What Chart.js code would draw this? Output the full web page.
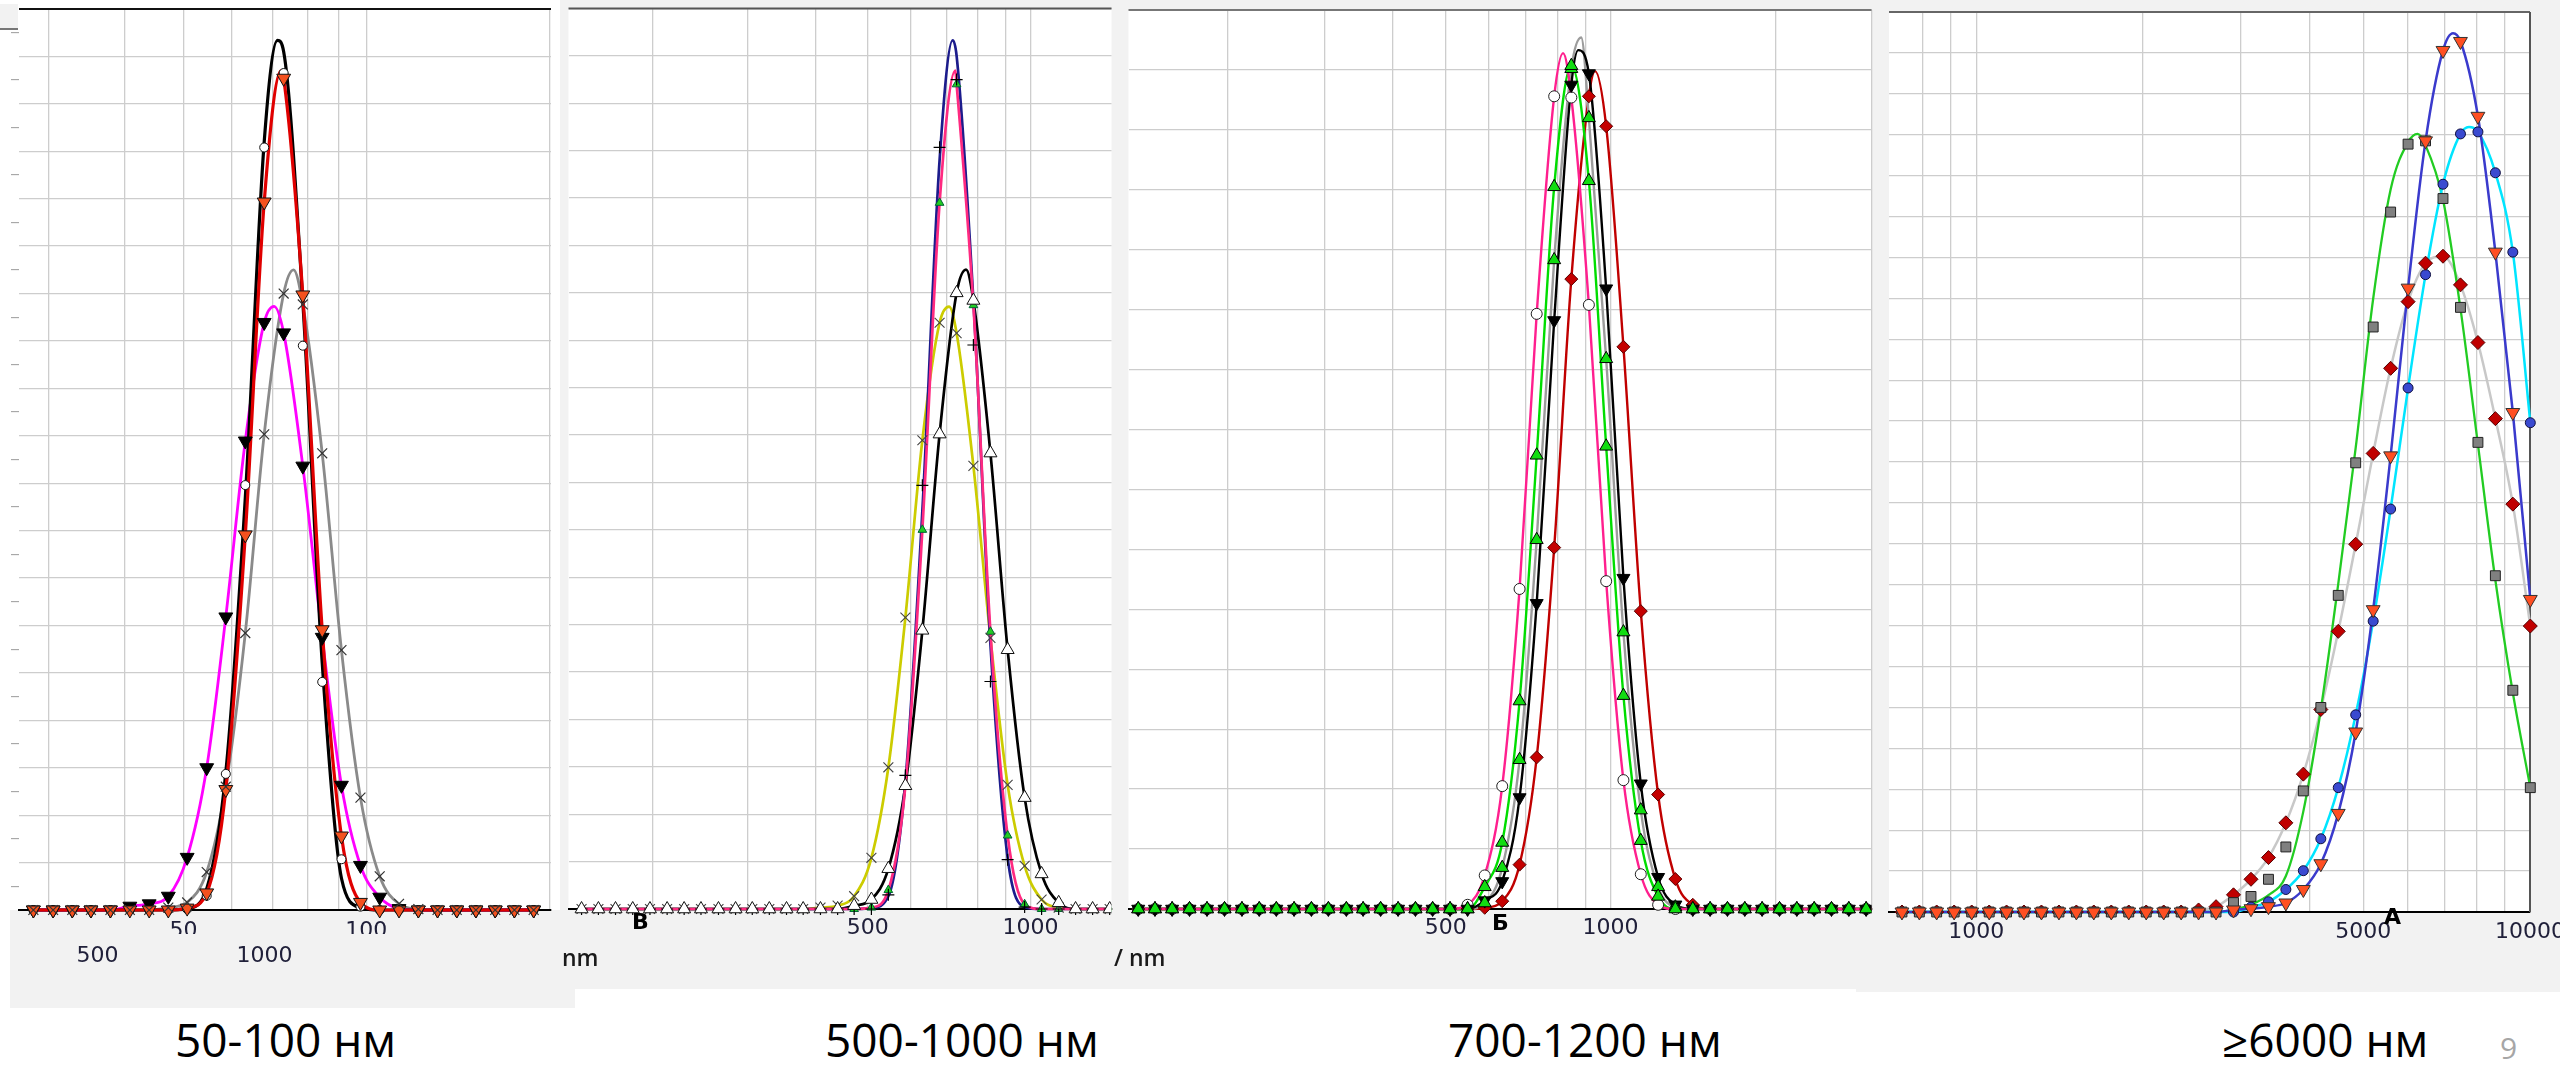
<!DOCTYPE html>
<html><head><meta charset="utf-8">
<script src="https://cdn.jsdelivr.net/npm/chart.js@4/dist/chart.umd.min.js"></script>
<style>
html,body{margin:0;padding:0}
body{width:2560px;height:1065px;background:#fff;position:relative;overflow:hidden}
.g{position:absolute;background:#f2f2f2}
.gc{position:absolute;background:#f2f2f2;z-index:4}
canvas{position:absolute}
.t{position:absolute;white-space:nowrap;z-index:5}
.cap{font-family:'Open Sans',sans-serif;font-size:46px;line-height:46px;color:#000}
.ax{font-family:'Open Sans',sans-serif;font-weight:600;font-size:23px;line-height:23px;color:#1a1a1a}
.lt{font-family:'DejaVu Sans',sans-serif;font-weight:bold;font-size:22px;line-height:22px;color:#000}
</style></head>
<body>
<div class="g" style="left:560px;top:0;width:2000px;height:989px"></div>
<div class="g" style="left:10px;top:910px;width:565px;height:98px"></div>
<div class="g" style="left:1856px;top:985px;width:704px;height:7px"></div>
<div class="g" style="left:0;top:4px;width:18px;height:24px;border-bottom:2px solid #777"></div>
<div id="stage"></div>
<div class="gc" style="left:74px;top:932px;width:50px;height:11px"></div>
<div class="gc" style="left:232px;top:932px;width:72px;height:11px"></div>
<div class="t ax" style="left:562px;top:946px">nm</div>
<div class="t ax" style="left:1114px;top:946px">/ nm</div>
<div class="t lt" style="left:632px;top:911px">В</div>
<div class="t lt" style="left:1492px;top:912px">Б</div>
<div class="t lt" style="left:2384px;top:906px">А</div>
<div class="t cap" style="left:175px;top:1016px">50-100 нм</div>
<div class="t cap" style="left:825px;top:1016px">500-1000 нм</div>
<div class="t cap" style="left:1448px;top:1016px">700-1200 нм</div>
<div class="t cap" style="left:2222px;top:1016px">≥6000 нм</div>
<div class="t" style="left:2500px;top:1033px;font-family:'Open Sans',sans-serif;font-size:30px;line-height:30px;color:#a6a6a6">9</div>
<script>
// ===================== DATA =====================
// Panel 1 (50-100 nm)
const p1Bins = [28.3,30.5,32.8,35.2,37.9,40.8,43.9,47.2,50.7,54.6,58.7,63.2,67.9,73.1,78.6,84.6,91.0,97.8,105.2,113.2,121.8,131.0,140.9,151.5,163.0,175.3,188.6];
const p1Red     = [0,0,0,0,0,0,0,0, 0.04,0.36,2.54,7.91,14.93,17.54,12.97,5.91,1.56,0.16, 0,0,0,0,0,0,0,0,0];
const p1RedPeak = [72.4, 17.7];
const p1Black   = [0,0,0,0,0,0,0,0, 0.03,0.45,2.9,8.69,16.2,18.1,12.83,5.21,0.67,0.05, 0,0,0,0,0,0,0,0,0];
const p1BlackPeak = [71.4, 18.34];
const p1Magenta = [0,0,0,0,0, 0.08,0.13,0.29, 1.11,3.0,6.18,9.89,12.39,12.17,9.36,5.75,2.63,0.94,0.27,0.03, 0,0,0,0,0,0,0];
const p1MagentaPeak = [70.5, 12.73];
const p1Gray    = [0,0,0,0,0,0,0,0.05, 0.16,0.8,2.6,5.84,10.03,13.0,12.77,9.63,5.48,2.37,0.71,0.13,0.02, 0,0,0,0,0,0];
const p1GrayPeak = [75.9, 13.5];
const p1Circles = [0,0,0,0,0,0,0,0, 0.02,0.3,2.87,8.96,16.08,17.65,11.9,4.81,1.07,0.07, 0,0,0,0,0,0,0,0,0];
const p1Grid = [30,40,50,60,70,80,90,100,200];
const p1TickVals = [50,100];
const p1TickText = ['50','100'];
const p1GhostVals = [36.1,68];
const p1GhostText = ['500','1000'];

// Panel 2 (500-1000 nm)
const p2Bins = [148,159,171,184,198,213,229,246,265,285,306,329,354,380,409,440,472,508,546,587,631,679,730,784,843,907,975,1048,1127,1211,1302,1400];
const p2Black  = [0,0,0,0,0,0,0,0,0,0,0,0,0,0,0,0, 0.07, 0.2,0.85,2.6,5.88,10.02,13.0,12.84,9.62,5.47,2.35,0.74,0.13, 0,0,0];
const p2BlackPeak = [760, 13.49];
const p2Yellow = [0,0,0,0,0,0,0,0,0,0,0,0,0,0, 0.03,0.07,0.27, 1.08,2.99,6.15,9.89,12.37,12.15,9.35,5.72,2.62,0.91,0.2,0.03, 0,0,0];
const p2YellowPeak = [707, 12.71];
const p2Blue   = [0,0,0,0,0,0,0,0,0,0,0,0,0,0,0,0,0, 0.02,0.27,2.69,8.4,15.8,18.0,12.84,5.58,1.08,0.04, 0,0,0,0,0];
const p2BluePeak = [718, 18.33];
const p2Plus   = [0,0,0,0,0,0,0,0,0,0,0,0,0,0,0,0,0, 0,0.3,2.82,8.94,16.07,17.5,11.9,4.8,1.04,0.04, 0,0,0,0,0];
const p2Pink   = [0,0,0,0,0,0,0,0,0,0,0,0,0,0,0,0,0, 0.03,0.4,2.6,8.0,14.9,17.4,12.74,5.85,1.55,0.1, 0,0,0,0,0];
const p2PinkPeak = [726, 17.69];
const p2Grid = [200,300,400,500,600,700,800,900,1000];
const p2TickVals = [500,1000];
const p2TickText = ['500','1000'];

// Panel 3 (700-1200 nm)
const p3Bins = [137,147,158,170,183,197,212,228,245,264,284,305,329,353,380,409,440,473,509,548,589,634,682,733,789,848,913,982,1056,1136,1222,1314,1414,1521,1636,1760,1893,2037,2191,2357,2535,2727,2933];
const p3Pink  = [0,0,0,0,0,0,0,0,0,0,0,0,0,0,0,0,0,0,0, 0.07, 0.56,2.05,5.34,9.93,13.56,13.54,10.08,5.47,2.15,0.58,0.07, 0,0,0,0,0,0,0,0,0,0,0,0];
const p3PinkPeak = [819, 14.28];
const p3Green = [0,0,0,0,0,0,0,0,0,0,0,0,0,0,0,0,0,0,0,0, 0.37,1.11,3.47,7.57,12.05,14.07,12.15,7.72,3.56,1.14,0.21, 0,0,0,0,0,0,0,0,0,0,0,0];
const p3Gray  = [0,0,0,0,0,0,0,0,0,0,0,0,0,0,0,0,0,0,0,0, 0.1,0.69,2.49,6.16,10.83,14.02,13.2,9.18,4.62,1.65,0.37,0.03, 0,0,0,0,0,0,0,0,0,0,0];
const p3GrayPeak = [884, 14.54];
const p3Black = [0,0,0,0,0,0,0,0,0,0,0,0,0,0,0,0,0,0,0,0, 0.14,0.46,1.86,5.1,9.82,13.75,13.94,10.35,5.52,2.09,0.53,0.07, 0,0,0,0,0,0,0,0,0,0,0];
const p3BlackPeak = [873, 14.33];
const p3Red   = [0,0,0,0,0,0,0,0,0,0,0,0,0,0,0,0,0,0,0,0, 0.02,0.13,0.74,2.53,6.03,10.51,13.56,13.06,9.38,4.97,1.91,0.5,0.07, 0,0,0,0,0,0,0,0,0,0];
const p3RedPeak = [937, 13.98];
const p3Grid = [200,300,400,500,600,700,800,900,1000,2000,3000];
const p3TickVals = [500,1000];
const p3TickText = ['500','1000'];

// Panel 4 (>=6000 nm)
const p4Bins = [734,789,848,912,981,1055,1134,1219,1311,1410,1516,1630,1753,1885,2027,2180,2344,2520,2710,2914,3134,3370,3623,3896,4190,4505,4844,5209,5601,6023,6477,6964,7489,8053,8659,9311,10013];
const p4Green   = [0,0,0,0,0,0,0,0,0,0,0,0,0,0,0,0,0,0,0, 0.05,0.18,0.41,0.88,2.46,4.95,8.02,11.35,14.99,17.66,18.82,18.74,17.41,14.75,11.43,8.11,5.36,3.04];
const p4GreenPeak = [6266, 19.02];
const p4Squares = [0,0,0,0,0,0,0,0,0,0,0,0,0,0,0,0,0,0,0, 0.23,0.38,0.8,1.59,2.96,5.0,7.74,10.98,14.3,17.11,18.77,18.85,17.44,14.78,11.48,8.22,5.42,3.04];
const p4LightGray = [0,0,0,0,0,0,0,0,0,0,0,0,0,0,0,0,0, 0.05,0.13,0.42,0.8,1.33,2.18,3.37,4.95,6.86,8.99,11.21,13.29,14.92,15.86,16.03,15.33,13.92,12.06,9.97,6.99];
const p4Blue    = [0,0,0,0,0,0,0,0,0,0,0,0,0,0,0,0,0,0,0, 0.05,0.08,0.13,0.22,0.55,1.18,2.41,4.4,7.39,11.15,15.25,18.85,21.06,21.28,19.45,16.13,12.21,7.64];
const p4BluePeak = [7262, 21.48];
const p4Cyan    = [0,0,0,0,0,0,0,0,0,0,0,0,0,0,0,0,0,0,0,0, 0.12,0.25,0.55,1.01,1.79,3.04,4.82,7.11,9.85,12.81,15.58,17.79,19.02,19.07,18.07,16.13,11.96];
const p4CyanPeak = [7757, 19.19];
const p4Grid = [800,900,1000,2000,3000,4000,5000,6000,7000,8000,9000,10000];
const p4TickVals = [1000,5000,10000];
const p4TickText = ['1000','5000','10000'];

// ===================== HELPERS =====================
function pts(bins, vals, peak) {
  const a = bins.map((x, i) => ({x: x, y: vals[i]}));
  if (peak) { a.push({x: peak[0], y: peak[1]}); a.sort((p, q) => p.x - q.x); }
  return a;
}
function lineDS(bins, vals, peak, st, clip) {
  return {data: pts(bins, vals, peak), borderColor: st.color, borderWidth: st.width,
    pointRadius: 0, pointHoverRadius: 0, fill: false, cubicInterpolationMode: 'monotone', clip: clip};
}
function markDS(bins, vals, st, clip) {
  return {data: pts(bins, vals, null), showLine: false, pointStyle: st.shape, pointRadius: st.r,
    pointHoverRadius: st.r, pointRotation: st.rot || 0, pointBackgroundColor: st.fill,
    pointBorderColor: st.stroke, pointBorderWidth: st.bw || 1, clip: clip};
}
function halfTicks(max) { const t = []; for (let v = 0; v <= max + 1e-9; v += 0.5) t.push({value: v}); return t; }

const framePlugin = {
  id: 'frame',
  beforeDraw(chart) {
    const {ctx, chartArea: a} = chart;
    ctx.save(); ctx.fillStyle = '#fff'; ctx.fillRect(a.left, a.top, a.right - a.left, a.bottom - a.top); ctx.restore();
  },
  beforeDatasetsDraw(chart, args, o) {
    const {ctx, chartArea: a} = chart;
    ctx.save(); ctx.lineWidth = 2;
    if (o.top) { ctx.strokeStyle = o.top; ctx.beginPath(); ctx.moveTo(a.left, a.top); ctx.lineTo(a.right, a.top); ctx.stroke(); }
    if (o.right) { ctx.strokeStyle = o.right; ctx.beginPath(); ctx.moveTo(a.right, a.top); ctx.lineTo(a.right, a.bottom); ctx.stroke(); }
    ctx.restore();
  }
};

const TICK_FONT = {family: "'DejaVu Sans', sans-serif", size: 22};
const TICK_COLOR = '#20203a';

function build(P) {
  const c = document.createElement('canvas');
  c.width = P.box[2]; c.height = P.box[3];
  c.style.left = P.box[0] + 'px'; c.style.top = P.box[1] + 'px';
  c.style.width = P.box[2] + 'px'; c.style.height = P.box[3] + 'px';
  document.getElementById('stage').appendChild(c);
  const datasets = [];
  P.markers.forEach(m => datasets.push(markDS(P.bins, m.vals, m.st, P.clip)));
  P.lines.forEach(l => datasets.push(lineDS(P.bins, l.vals, l.peak, l.st, P.clip)));
  const scales = {
    x: {type: 'logarithmic', position: 'bottom', min: P.xMin, max: P.xMax, bounds: 'data', weight: 0,
      afterBuildTicks: s => { s.ticks = P.grid.map(v => ({value: v})); },
      afterFit: s => { s.height = P.xH; s.paddingLeft = 0; s.paddingRight = 0; },
      grid: {color: '#cdcdcd', lineWidth: 1.3, drawTicks: false},
      border: {display: true, color: '#000', width: 2},
      ticks: {autoSkip: false, maxRotation: 0, minRotation: 0, padding: P.labPad, font: TICK_FONT, color: TICK_COLOR,
        callback: v => { const i = P.tickVals.indexOf(v); return i >= 0 ? P.tickText[i] : ''; }}},
    y: {type: 'linear', position: 'left', min: 0, max: P.yMax,
      afterBuildTicks: s => { s.ticks = halfTicks(P.yMax); },
      afterFit: s => { s.width = P.yTick; s.paddingTop = 0; s.paddingBottom = 0; },
      grid: {lineWidth: 1.3, drawTicks: P.yTick > 0, tickLength: P.yTick || 1, tickWidth: 1,
        color: cx => (cx.tick && cx.tick.value % 1 === 0) ? '#cdcdcd' : 'rgba(0,0,0,0)',
        tickColor: cx => (cx.tick && cx.tick.value % 1 !== 0) ? '#9a9a9a' : 'rgba(0,0,0,0)'},
      border: {display: false},
      ticks: {display: false}}
  };
  if (P.ghostVals) {
    scales.xg = {type: 'logarithmic', position: 'bottom', min: P.xMin, max: P.xMax, bounds: 'data', weight: 1,
      afterBuildTicks: s => { s.ticks = P.ghostVals.map(v => ({value: v})); },
      afterFit: s => { s.height = P.xgH; s.paddingLeft = 0; s.paddingRight = 0; },
      grid: {display: false}, border: {display: false},
      ticks: {autoSkip: false, maxRotation: 0, minRotation: 0, padding: P.ghostPad, font: TICK_FONT, color: TICK_COLOR,
        callback: v => { const i = P.ghostVals.indexOf(v); return i >= 0 ? P.ghostText[i] : ''; }}};
  }
  return new Chart(c, {
    type: 'line',
    data: {datasets},
    options: {
      responsive: false, animation: false, events: [], devicePixelRatio: 1,
      layout: {padding: {top: P.padTop, right: P.padRight || 0, left: 0, bottom: 0}},
      plugins: {legend: {display: false}, tooltip: {enabled: false}, frame: P.frame},
      scales
    },
    plugins: [framePlugin]
  });
}

// ===================== STYLES =====================
const CLIP = {left: 0, right: 0, top: 8, bottom: 12};

build({
  box: [10, 0, 550, 974], padTop: 5, yTick: 8, xH: 24, labPad: 8, xgH: 40, ghostPad: 1,
  xMin: 26.8, xMax: 201.4, yMax: 19, grid: p1Grid, tickVals: p1TickVals, tickText: p1TickText,
  ghostVals: p1GhostVals, ghostText: p1GhostText, frame: {top: '#111'}, clip: CLIP, bins: p1Bins,
  markers: [
    {vals: p1Gray,    st: {shape: 'crossRot', r: 7, fill: 'rgba(0,0,0,0)', stroke: '#333', bw: 1.2}},
    {vals: p1Red,     st: {shape: 'triangle', r: 8, rot: 180, fill: '#f4511e', stroke: '#111', bw: 1}},
    {vals: p1Magenta, st: {shape: 'triangle', r: 8, rot: 180, fill: '#000', stroke: '#000', bw: 1}},
    {vals: p1Circles, st: {shape: 'circle', r: 4.5, fill: '#fff', stroke: '#111', bw: 1}}
  ],
  lines: [
    {vals: p1Red, peak: p1RedPeak, st: {color: '#e00000', width: 3.2}},
    {vals: p1Black, peak: p1BlackPeak, st: {color: '#000', width: 3.2}},
    {vals: p1Magenta, peak: p1MagentaPeak, st: {color: '#ff00ff', width: 2.8}},
    {vals: p1Gray, peak: p1GrayPeak, st: {color: '#8a8a8a', width: 2.8}}
  ]
});

build({
  box: [560, 0, 560, 959], padTop: 7, yTick: 0, xH: 50, labPad: 6,
  xMin: 140, xMax: 1411, yMax: 19, grid: p2Grid, tickVals: p2TickVals, tickText: p2TickText,
  frame: {top: '#555'}, clip: CLIP, bins: p2Bins,
  markers: [
    {vals: p2Black,  st: {shape: 'triangle', r: 7.5, fill: '#fff', stroke: '#111', bw: 1}},
    {vals: p2Yellow, st: {shape: 'crossRot', r: 7, fill: 'rgba(0,0,0,0)', stroke: '#444', bw: 1.1}},
    {vals: p2Plus,   st: {shape: 'cross', r: 6, fill: 'rgba(0,0,0,0)', stroke: '#000', bw: 1.2}},
    {vals: p2Pink,   st: {shape: 'triangle', r: 5, fill: '#22cc22', stroke: '#063', bw: 1}}
  ],
  lines: [
    {vals: p2Pink, peak: p2PinkPeak, st: {color: '#ff2a80', width: 2.7}},
    {vals: p2Blue, peak: p2BluePeak, st: {color: '#1c1c8c', width: 2.7}},
    {vals: p2Black, peak: p2BlackPeak, st: {color: '#000', width: 2.7}},
    {vals: p2Yellow, peak: p2YellowPeak, st: {color: '#cccc00', width: 2.7}}
  ]
});

build({
  box: [1120, 0, 760, 959], padTop: 10, yTick: 0, xH: 50, labPad: 6,
  xMin: 131.5, xMax: 3000, yMax: 15, grid: p3Grid, tickVals: p3TickVals, tickText: p3TickText,
  frame: {top: '#777'}, clip: CLIP, bins: p3Bins,
  markers: [
    {vals: p3Green, st: {shape: 'triangle', r: 7.5, fill: '#11dd11', stroke: '#000', bw: 1}},
    {vals: p3Gray,  st: {shape: 'triangle', r: 7.5, fill: '#11dd11', stroke: '#000', bw: 1}},
    {vals: p3Black, st: {shape: 'triangle', r: 7.5, rot: 180, fill: '#000', stroke: '#000', bw: 1}},
    {vals: p3Pink,  st: {shape: 'circle', r: 5.5, fill: '#fff', stroke: '#222', bw: 1}},
    {vals: p3Red,   st: {shape: 'rectRot', r: 6.5, fill: '#c40000', stroke: '#5a0000', bw: 1}}
  ],
  lines: [
    {vals: p3Pink, peak: p3PinkPeak, st: {color: '#ff1f8e', width: 2.4}},
    {vals: p3Green, peak: null, st: {color: '#00dd00', width: 2.4}},
    {vals: p3Black, peak: p3BlackPeak, st: {color: '#000', width: 2.4}},
    {vals: p3Gray, peak: p3GrayPeak, st: {color: '#9c9c9c', width: 2.4}},
    {vals: p3Red, peak: p3RedPeak, st: {color: '#c00000', width: 2.4}}
  ]
});

build({
  box: [1880, 0, 680, 962], padTop: 12, padRight: 30, yTick: 0, xH: 50, labPad: 7,
  xMin: 695.5, xMax: 10000, yMax: 22, grid: p4Grid, tickVals: p4TickVals, tickText: p4TickText,
  frame: {top: '#666', right: '#555'}, clip: {left: 0, right: 8, top: 8, bottom: 12}, bins: p4Bins,
  markers: [
    {vals: p4Blue,      st: {shape: 'triangle', r: 8, rot: 180, fill: '#ff4f22', stroke: '#333', bw: 1}},
    {vals: p4Squares,   st: {shape: 'rect', r: 7, fill: '#808080', stroke: '#222', bw: 1}},
    {vals: p4LightGray, st: {shape: 'rectRot', r: 7, fill: '#c00000', stroke: '#500', bw: 1}},
    {vals: p4Cyan,      st: {shape: 'circle', r: 5, fill: '#3a4ad0', stroke: '#101040', bw: 1}}
  ],
  lines: [
    {vals: p4Blue, peak: p4BluePeak, st: {color: '#3a3acc', width: 2.5}},
    {vals: p4Cyan, peak: p4CyanPeak, st: {color: '#00e5ff', width: 2.5}},
    {vals: p4Green, peak: p4GreenPeak, st: {color: '#22cc22', width: 2.3}},
    {vals: p4LightGray, peak: null, st: {color: '#c8c8c8', width: 2.5}}
  ]
});
</script>
</body></html>
